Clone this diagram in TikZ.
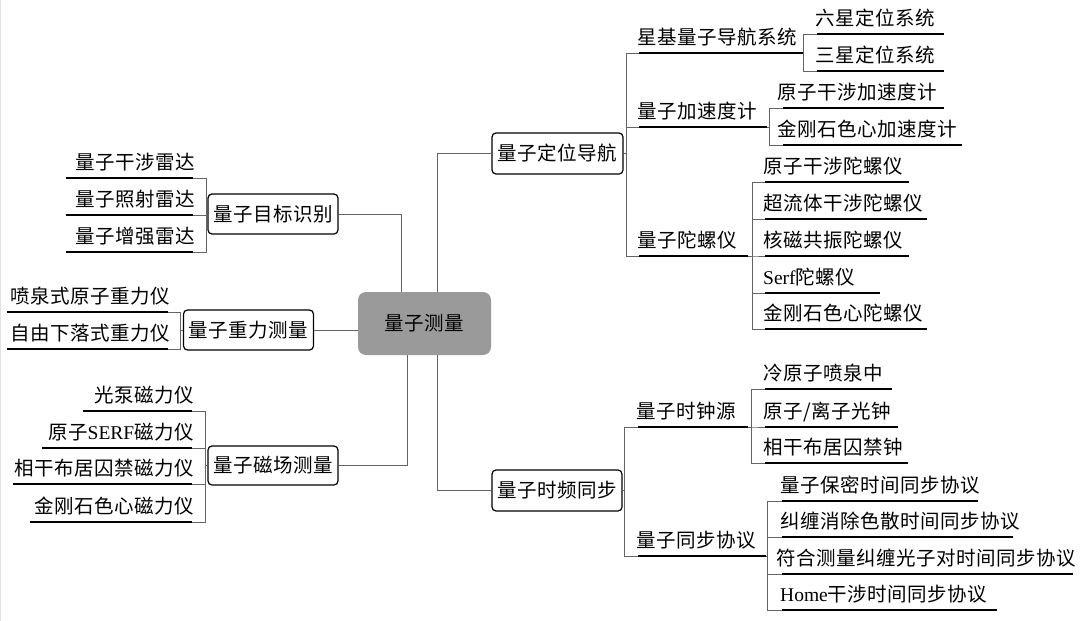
\documentclass[tikz,border=0pt]{standalone}
\usepackage{fontspec}
\setmainfont{Liberation Serif}
\newfontfamily\cjk[LetterSpace=2.5]{Noto Sans CJK SC}
\newcommand\lat[1]{{\rmfamily #1}}
\definecolor{connc}{RGB}{100,100,100}
\definecolor{rootgray}{RGB}{154,154,154}
\definecolor{edgegray}{RGB}{225,225,225}
\tikzset{
  conn/.style={draw=connc, line width=0.9pt},
  ulline/.style={draw=black, line width=2.2pt},
  cjkfont/.style={font=\cjk\fontsize{19.5}{22}\selectfont},
  leaf/.style={cjkfont, inner xsep=0pt, inner ysep=0pt, text height=16pt, text depth=8.5pt},
  topic/.style={cjkfont, draw=black, line width=1.2pt, rounded corners=4pt, fill=white,
                minimum width=130pt, minimum height=40pt, inner sep=0pt},
  rootnode/.style={cjkfont, fill=rootgray, rounded corners=8pt, minimum width=133pt,
                minimum height=63pt, inner sep=0pt}
}
% right-side leaf: name, x1, x2, y, text
\newcommand\leafR[5]{%
  \pgfmathsetmacro\lw{#3-#2}%
  \node[leaf, anchor=south west] (#1) at (#2,#4) {\makebox[\lw pt][l]{\hspace*{-2pt}#5}};
  \draw[ulline] (#1.south west) -- (#1.south east);}
% left-side leaf: name, x1, x2, y, text
\newcommand\leafL[5]{%
  \pgfmathsetmacro\lw{#3-#2}%
  \node[leaf, anchor=south east] (#1) at (#3,#4) {\makebox[\lw pt][r]{#5\hspace*{-2pt}}};
  \draw[ulline] (#1.south west) -- (#1.south east);}
\begin{document}
\begin{tikzpicture}[x=1pt, y=-1pt]
\useasboundingbox (0,0) rectangle (1080,621);
\fill[white] (0,0) rectangle (1080,621);
\draw[draw=edgegray, line width=1pt] (0.5,0) -- (0.5,621);

% root and main topics
\node[rootnode] (root) at (424.5,323.5) {量子测量};
\node[topic] (tgt) at (273,214) {量子目标识别};
\node[topic] (grav) at (248.5,330) {量子重力测量};
\node[topic, minimum height=39pt] (mag) at (273,465.5) {量子磁场测量};
\node[topic, minimum width=131pt, minimum height=41pt] (nav) at (557.5,153.5) {量子定位导航};
\node[topic, minimum height=41pt] (time) at (557,490.5) {量子时频同步};

% root connectors
\draw[conn] (tgt.east) -| ([xshift=-23.5pt]root.north);
\draw[conn] (grav.east) -- (grav.east -| root.west);
\draw[conn] (mag.east) -| ([xshift=-17.5pt]root.south);
\draw[conn] ([xshift=12.5pt]root.north) |- (nav.west);
\draw[conn] ([xshift=12.5pt]root.south) |- (time.west);

% navigation branch
\leafR{sat}{639}{803}{53}{星基量子导航系统}
\leafR{acc}{639}{767}{127}{量子加速度计}
\leafR{gyro}{639}{748}{256}{量子陀螺仪}
\foreach \n in {sat,acc,gyro} \draw[conn] (nav.east) -- ++(3,0) |- (\n.south west);

\leafR{six}{817}{944}{34}{六星定位系统}
\leafR{three}{817}{944}{71}{三星定位系统}
\foreach \n in {six,three} \draw[conn] (sat.south east) |- (\n.south west);

\leafR{aa}{783}{944}{108}{\hspace*{-4pt}原子干涉加速度计}
\leafR{ab}{783}{962}{145}{\hspace*{-4pt}金刚石色心加速度计}
\foreach \n in {aa,ab} \draw[conn] (acc.south east) -- ++(2,0) |- (\n.south west);

\leafR{ga}{765}{909}{182}{原子干涉陀螺仪}
\leafR{gb}{765}{927}{219}{超流体干涉陀螺仪}
\leafR{gc}{765}{909}{256}{核磁共振陀螺仪}
\leafR{gd}{765}{880}{293}{\lat{Serf}陀螺仪}
\leafR{ge}{765}{927}{329}{金刚石色心陀螺仪}
\foreach \n in {ga,gb,gc,gd,ge} \draw[conn] (gyro.south east) -- ++(4,0) |- (\n.south west);

% time branch
\leafR{clk}{638}{748}{427}{量子时钟源}
\leafR{proto}{638}{766}{556}{量子同步协议}
\foreach \n in {clk,proto} \draw[conn] (time.east) -- ++(2,0) |- (\n.south west);

\leafR{ca}{765}{892}{389}{冷原子喷泉中}
\leafR{cb}{765}{898}{427}{原子/离子光钟}
\leafR{cc}{765}{908}{463}{相干布居囚禁钟}
\foreach \n in {ca,cb,cc} \draw[conn] (clk.south east) -- ++(3,0) |- (\n.south west);

\leafR{pa}{782}{978}{501}{量子保密时间同步协议}
\leafR{pb}{782}{1013}{537}{纠缠消除色散时间同步协议}
\leafR{pc}{782}{1073}{574}{\hspace*{-4pt}符合测量纠缠光子对时间同步协议}
\leafR{pd}{782}{997}{610}{\lat{Home}干涉时间同步协议}
\foreach \n in {pa,pb,pc,pd} \draw[conn] (proto.south east) -- ++(1,0) |- (\n.south west);

% target recognition branch
\leafL{ta}{66}{193}{178}{量子干涉雷达}
\leafL{tb}{66}{193}{215}{量子照射雷达}
\leafL{tc}{66}{193}{252}{量子增强雷达}
\foreach \n in {ta,tb,tc} \draw[conn] (tgt.west) -- ++(-1,0) |- (\n.south east);

% gravity branch
\leafL{ra}{7}{168}{312}{喷泉式原子重力仪}
\leafL{rb}{7}{168}{349}{自由下落式重力仪}
\foreach \n in {ra,rb} \draw[conn] (grav.west) -- ++(-2,0) |- (\n.south east);

% magnetic branch
\leafL{ma}{83}{192}{411}{光泵磁力仪}
\leafL{mb}{42}{192}{448}{原子\lat{SERF}磁力仪}
\leafL{mc}{13}{192}{484}{相干布居囚禁磁力仪}
\leafL{md}{30}{192}{522}{金刚石色心磁力仪}
\foreach \n in {ma,mb,mc,md} \draw[conn] (mag.west) -- ++(-2,0) |- (\n.south east);
\end{tikzpicture}
\end{document}
